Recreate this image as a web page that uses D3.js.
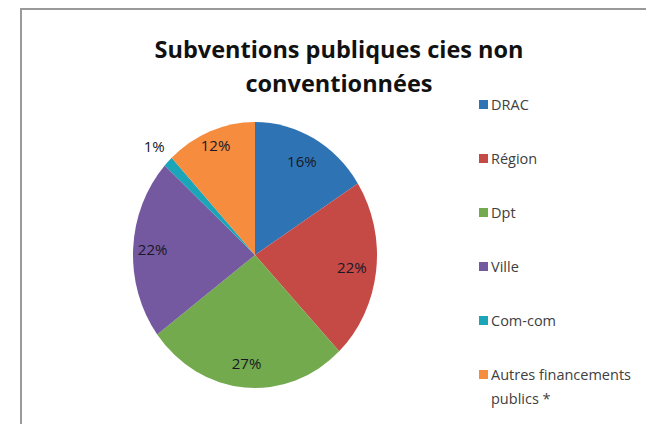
<!DOCTYPE html>
<html>
<head>
<meta charset="utf-8">
<script src="https://cdn.jsdelivr.net/npm/d3@7"></script>
<style>
  body { margin: 0; background: #fff; }
  text { font-family: "Open Sans", sans-serif; }
</style>
</head>
<body>
<div class="svg_area"></div>
<script>
// Chart data
var categories = ["DRAC", "Région", "Dpt", "Ville", "Com-com", "Autres financements publics *"];
var shares = [16, 22, 27, 22, 1.3, 12];
var labels = ["16%", "22%", "27%", "22%", "1%", "12%"];
var colors = ["#2E74B4", "#C54A46", "#72AA4D", "#7459A0", "#1AA5B8", "#F58C3E"];

var svgWidth = 646;
var svgHeight = 424;

var svg = d3.select(".svg_area")
  .append("svg")
  .attr("width", svgWidth)
  .attr("height", svgHeight);

// frame (runs off the right and bottom edge)
svg.append("path")
  .attr("d", "M21,424 V9 H646")
  .attr("fill", "none")
  .attr("stroke", "#9a9a9a")
  .attr("stroke-width", 2);

// title
var title = svg.append("text")
  .attr("text-anchor", "middle")
  .attr("font-size", 23.5)
  .attr("font-weight", "bold")
  .attr("fill", "#111");
title.append("tspan").attr("x", 339).attr("y", 58).text("Subventions publiques cies non");
title.append("tspan").attr("x", 339).attr("y", 92).text("conventionnées");

// pie (slightly taller than wide, as in the picture)
var cx = 255, cy = 255, rx = 122, ry = 133;

var pie = d3.pie().sort(null).value(d => d);
var arcs = pie(shares);
var arc = d3.arc().innerRadius(0).outerRadius(rx);

var pieGroup = svg.append("g")
  .attr("transform", `translate(${cx}, ${cy}) scale(1, ${ry / rx})`);

pieGroup.selectAll("path")
  .data(arcs)
  .enter()
  .append("path")
  .attr("d", arc)
  .attr("fill", (d, i) => colors[i]);

// labels, placed along the ellipse
var labelR = [0.8, 0.8, 0.82, 0.84, 1.16, 0.88];
svg.selectAll(".slice-label")
  .data(arcs)
  .enter()
  .append("text")
  .attr("class", "slice-label")
  .attr("text-anchor", "middle")
  .attr("dy", "0.35em")
  .attr("font-size", 15)
  .attr("fill", "#181826")
  .attr("x", (d, i) => cx + Math.sin((d.startAngle + d.endAngle) / 2) * rx * labelR[i])
  .attr("y", (d, i) => cy - Math.cos((d.startAngle + d.endAngle) / 2) * ry * labelR[i])
  .text((d, i) => labels[i]);

// legend
var legendY = d3.scalePoint()
  .domain(categories)
  .range([105, 375]);

var legend = svg.selectAll(".legend")
  .data(categories)
  .enter()
  .append("g")
  .attr("class", "legend")
  .attr("transform", d => `translate(479, ${legendY(d)})`);

legend.append("rect")
  .attr("x", 0)
  .attr("y", -5)
  .attr("width", 9)
  .attr("height", 9)
  .attr("fill", (d, i) => colors[i]);

legend.append("text")
  .attr("x", 12)
  .attr("dy", "0.35em")
  .attr("font-size", 14.5)
  .attr("fill", "#404040")
  .each(function(d) {
    var t = d3.select(this);
    if (d.startsWith("Autres")) {
      t.append("tspan").attr("x", 12).text("Autres financements");
      t.append("tspan").attr("x", 12).attr("dy", "1.65em").text("publics *");
    } else {
      t.text(d);
    }
  });
</script>
</body>
</html>
